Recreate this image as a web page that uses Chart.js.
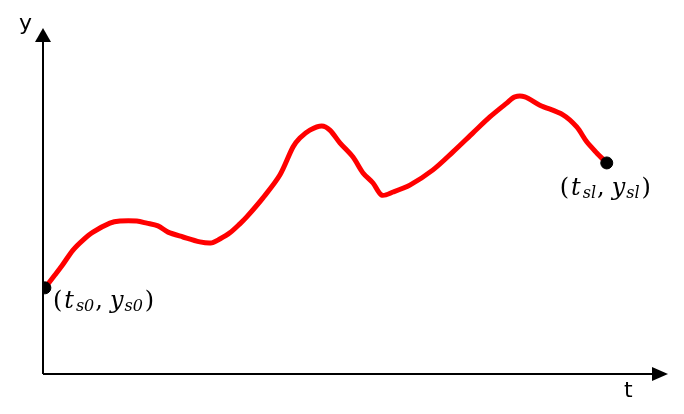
<!DOCTYPE html>
<html>
<head>
<meta charset="utf-8">
<script src="https://cdn.jsdelivr.net/npm/chart.js@4.4.0/dist/chart.umd.min.js"></script>
<style>
  html, body { margin: 0; padding: 0; background: #fff; }
  #wrap { width: 684px; height: 414px; }
</style>
</head>
<body>
<div id="wrap"><canvas id="curve"></canvas></div>
<script>
// curve samples (t from 0 to 100, y from 0 to 100)
const tValues = [0.3, 1.9, 3.0, 4.8, 6.4, 8.0, 10.7, 12.3, 15.0, 16.6, 18.4, 20.0, 22.4, 25.1, 27.0,
  28.3, 29.9, 31.5, 32.6, 35.2, 37.9, 40.0, 41.1, 42.7, 44.6, 45.9, 47.5, 49.6, 51.2, 52.8, 54.2,
  56.0, 58.7, 62.4, 65.6, 68.8, 71.5, 74.2, 75.5, 77.1, 79.5, 83.2, 85.4, 87.0, 88.6, 90.2];
const yValues = [24.9, 28.6, 31.2, 35.8, 38.7, 41.0, 43.6, 44.2, 44.2, 43.6, 42.8, 41.0, 39.6, 38.2, 37.9,
  39.0, 40.8, 43.4, 45.4, 50.9, 57.5, 65.6, 68.2, 70.5, 71.7, 70.5, 66.8, 62.7, 58.1, 55.2, 51.7,
  52.6, 54.6, 59.0, 64.2, 69.7, 74.3, 78.3, 80.1, 80.1, 77.7, 74.9, 71.4, 67.1, 63.9, 61.0];

const endLabels = [["s0", "s0"], ["sl", "sl"]];
const axisNames = ["t", "y"];

const curvePoints = tValues.map((t, i) => ({ x: t, y: yValues[i] }));
const endPoints = [curvePoints[0], curvePoints[curvePoints.length - 1]];

// draws "(t_a, y_b)" with italic letters and small subscripts
const drawLabel = (ctx, x, baseline, subs) => {
  const big = "24px 'DejaVu Serif'";
  const bigIt = "italic 24px 'DejaVu Serif'";
  const small = "italic 16px 'DejaVu Serif'";
  const runs = [
    { s: "(", font: big, dy: 0, gap: 2 },
    { s: "t", font: bigIt, dy: 0, gap: 2 },
    { s: subs[0], font: small, dy: 3, gap: 1 },
    { s: ",", font: big, dy: 0, gap: 7 },
    { s: "y", font: bigIt, dy: 0, gap: 1 },
    { s: subs[1], font: small, dy: 3, gap: 2 },
    { s: ")", font: big, dy: 0, gap: 0 },
  ];
  let cx = x;
  runs.forEach((r) => {
    ctx.font = r.font;
    ctx.fillText(r.s, cx, baseline + r.dy);
    cx += ctx.measureText(r.s).width + r.gap;
  });
};

const axesPlugin = {
  id: "axes",
  beforeDatasetsDraw(chart) {
    const { ctx, chartArea } = chart;
    const x0 = chart.scales.x.getPixelForValue(0);
    const y0 = chart.scales.y.getPixelForValue(0);
    const xEnd = chartArea.right;
    const yEnd = chartArea.top;
    ctx.save();
    ctx.strokeStyle = "#000";
    ctx.fillStyle = "#000";
    ctx.lineWidth = 2;
    ctx.beginPath();
    ctx.moveTo(x0, y0);
    ctx.lineTo(x0, yEnd + 10);
    ctx.moveTo(x0, y0);
    ctx.lineTo(xEnd - 10, y0);
    ctx.stroke();
    // arrow heads
    ctx.beginPath();
    ctx.moveTo(x0, yEnd);
    ctx.lineTo(x0 - 8, yEnd + 14);
    ctx.lineTo(x0 + 8, yEnd + 14);
    ctx.closePath();
    ctx.fill();
    ctx.beginPath();
    ctx.moveTo(xEnd, y0);
    ctx.lineTo(xEnd - 16, y0 - 7);
    ctx.lineTo(xEnd - 16, y0 + 7);
    ctx.closePath();
    ctx.fill();
    ctx.font = "22px 'DejaVu Sans'";
    ctx.fillText(axisNames[1], 19, 30);
    ctx.fillText(axisNames[0], 624, 397);
    ctx.restore();
  },
  afterDatasetsDraw(chart) {
    const { ctx } = chart;
    const sx = chart.scales.x;
    const sy = chart.scales.y;
    ctx.save();
    ctx.fillStyle = "#000";
    const p0 = endPoints[0];
    const p1 = endPoints[1];
    drawLabel(ctx, sx.getPixelForValue(p0.x) + 8, sy.getPixelForValue(p0.y) + 20, endLabels[0]);
    drawLabel(ctx, sx.getPixelForValue(p1.x) - 47, sy.getPixelForValue(p1.y) + 32, endLabels[1]);
    ctx.restore();
  },
};

new Chart(document.getElementById("curve").getContext("2d"), {
  type: "scatter",
  data: {
    datasets: [
      {
        data: endPoints,
        backgroundColor: "#000",
        borderColor: "#000",
        pointRadius: 6,
        showLine: false,
        order: 0,
      },
      {
        data: curvePoints,
        borderColor: "#ff0000",
        borderWidth: 5,
        pointRadius: 0,
        showLine: true,
        tension: 0.3,
        borderCapStyle: "round",
        borderJoinStyle: "round",
        order: 1,
      },
    ],
  },
  options: {
    responsive: true,
    maintainAspectRatio: false,
    animation: false,
    layout: { padding: { left: 43, right: 16, top: 28, bottom: 40 } },
    scales: {
      x: { type: "linear", min: 0, max: 100, display: false },
      y: { type: "linear", min: 0, max: 100, display: false },
    },
    plugins: {
      legend: { display: false },
      tooltip: { enabled: false },
    },
  },
  plugins: [axesPlugin],
});
</script>
</body>
</html>
